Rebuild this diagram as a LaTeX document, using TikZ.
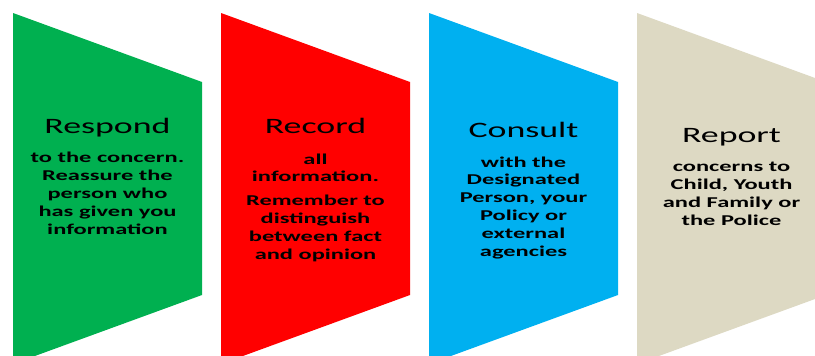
\documentclass[tikz,border=0pt]{standalone}
\usepackage{fontspec}
\setmainfont{Carlito}
\definecolor{cgreen}{HTML}{00B050}
\definecolor{cred}{HTML}{FF0000}
\definecolor{cblue}{HTML}{00B0F0}
\definecolor{ctan}{HTML}{DDD9C3}
\begin{document}
\begin{tikzpicture}[x=1pt,y=-1pt,
  ttl/.style={font=\fontsize{22}{26}\selectfont, xscale=1.63, anchor=base, inner sep=0pt, text=black},
  bodytxt/.style={font=\bfseries\fontsize{15}{17.8}\selectfont, xscale=1.63, align=center, anchor=base, inner sep=0pt, text=black}]
\useasboundingbox (0,0) rectangle (815,356);
\clip (0,0) rectangle (815,356);
\fill[cgreen] (13,13) -- (202,82) -- (202,295) -- (13,364) -- cycle;
\fill[cred] (221,13) -- (410,82) -- (410,295) -- (221,364) -- cycle;
\fill[cblue] (429,13) -- (618,82) -- (618,295) -- (429,364) -- cycle;
\fill[ctan] (637,13) -- (826,82) -- (826,295) -- (637,364) -- cycle;
\node[ttl] (t1) at (107.5,133) {Respond};
\node[bodytxt] (b1) at (107.5,234) {to the concern.\\Reassure the\\person who\\has given you\\information};
\node[ttl] (t2) at (315.5,133) {Record};
\node[bodytxt] (b2) at (315.5,259) {all\\information.\\[6pt]Remember to\\distinguish\\between fact\\and opinion};
\node[ttl] (t3) at (523.5,137) {Consult};
\node[bodytxt] (b3) at (523.5,256) {with the\\Designated\\Person, your\\Policy or\\external\\agencies};
\node[ttl] (t4) at (731.5,142) {Report};
\node[bodytxt] (b4) at (731.5,225) {concerns to\\Child, Youth\\and Family or\\the Police};
\end{tikzpicture}
\end{document}
